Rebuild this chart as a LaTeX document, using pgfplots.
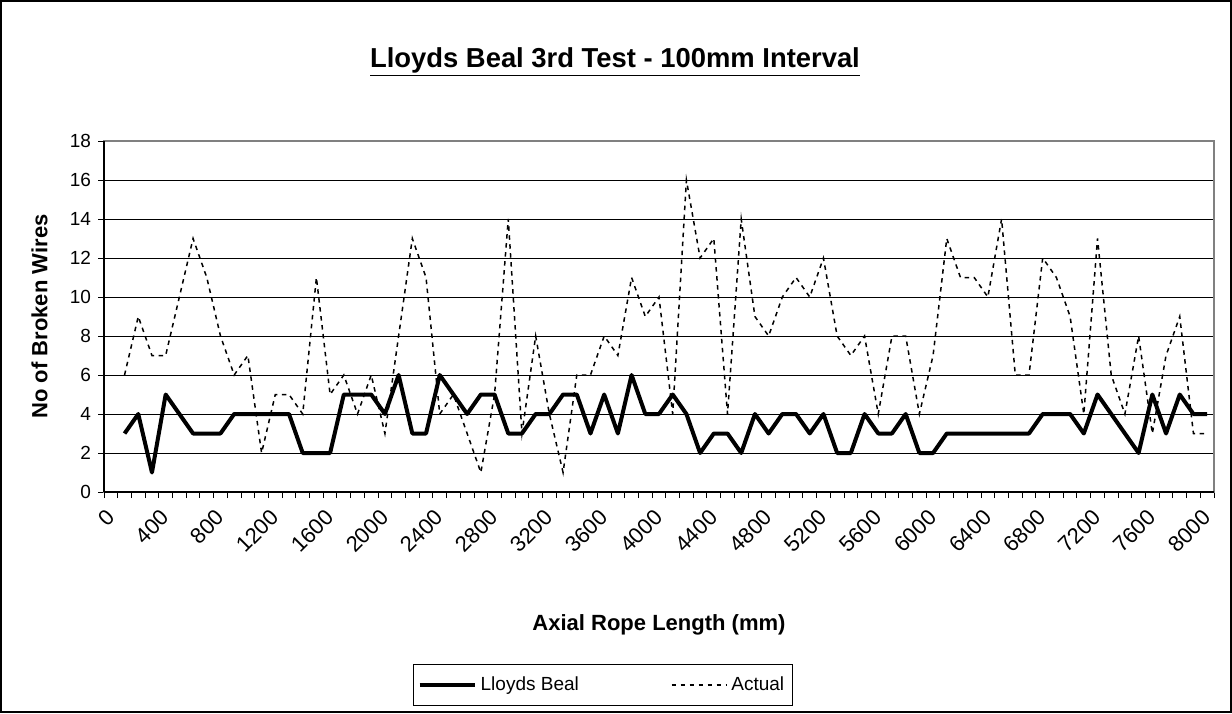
\documentclass[border=0pt]{standalone}
\usepackage{pgfplots}
\usepackage{pgfplotstable}
\usepackage{fontspec}
\setmainfont{Liberation Sans}
\pgfplotsset{compat=1.18}

% i = category index (i*100 mm), lb = Lloyds Beal, act = Actual
\pgfplotstableread{
i lb act
1 3 6
2 4 9
3 1 7
4 5 7
5 4 10
6 3 13
7 3 11
8 3 8
9 4 6
10 4 7
11 4 2
12 4 5
13 4 5
14 2 4
15 2 11
16 2 5
17 5 6
18 5 4
19 5 6
20 4 3
21 6 8
22 3 13
23 3 11
24 6 4
25 5 5
26 4 3
27 5 1
28 5 5
29 3 14
30 3 3
31 4 8
32 4 4
33 5 1
34 5 6
35 3 6
36 5 8
37 3 7
38 6 11
39 4 9
40 4 10
41 5 4
42 4 16
43 2 12
44 3 13
45 3 4
46 2 14
47 4 9
48 3 8
49 4 10
50 4 11
51 3 10
52 4 12
53 2 8
54 2 7
55 4 8
56 3 4
57 3 8
58 4 8
59 2 4
60 2 7
61 3 13
62 3 11
63 3 11
64 3 10
65 3 14
66 3 6
67 3 6
68 4 12
69 4 11
70 4 9
71 3 4
72 5 13
73 4 6
74 3 4
75 2 8
76 5 3
77 3 7
78 5 9
79 4 3
80 4 3
}\ropedata

\begin{document}
\begin{tikzpicture}[x=1pt,y=1pt]
\path[use as bounding box] (0,0) rectangle (616,356.5);
\draw[line width=0.6pt] (0.5,0.5) rectangle (615.5,356);
\node[font=\fontsize{13.7}{16}\selectfont\bfseries] at (307.5,325.5)
  {\underline{Lloyds Beal 3rd Test - 100mm Interval}};
\begin{axis}[
  at={(52pt,110.5pt)}, anchor=south west,
  scale only axis, width=555pt, height=175.5pt,
  xmin=-0.5, xmax=80.5, ymin=0, ymax=18,
  xtick={-0.5,0.5,...,80.5},
  x tick label as interval,
  xticklabels={0,{},{},{},400,{},{},{},800,{},{},{},1200,{},{},{},1600,{},{},{},
    2000,{},{},{},2400,{},{},{},2800,{},{},{},3200,{},{},{},3600,{},{},{},
    4000,{},{},{},4400,{},{},{},4800,{},{},{},5200,{},{},{},5600,{},{},{},
    6000,{},{},{},6400,{},{},{},6800,{},{},{},7200,{},{},{},7600,{},{},{},8000},
  ytick={0,2,...,18},
  ymajorgrids,
  grid style={black, line width=0.5pt},
  tick align=outside, tick pos=left,
  major tick length=3pt,
  tick style={black, line width=0.5pt},
  axis line style={gray, line width=0.6pt},
  ticklabel style={font=\fontsize{9.5}{11}\selectfont},
  xticklabel style={shift={(-3pt,-3.5pt)}, rotate=45, anchor=north east,
    inner sep=1pt, font=\fontsize{11}{13}\selectfont},
  /pgf/number format/assume math mode=true,
  yticklabel style={/pgf/number format/fixed},
  xlabel={Axial Rope Length (mm)},
  ylabel={No of Broken Wires},
  label style={font=\fontsize{11}{13}\selectfont\bfseries},
  xlabel style={at={(axis description cs:0.5,-0.379)}, anchor=center},
  ylabel style={at={(axis description cs:-0.058,0.5)}, anchor=center},
  legend columns=2,
  legend style={at={(axis description cs:0.4495,-0.6097)}, anchor=south,
    draw=black, line width=0.5pt, font=\fontsize{9.5}{11}\selectfont,
    inner xsep=2pt, inner ysep=4pt,
    nodes={inner xsep=2pt},
    /tikz/every even column/.append style={column sep=44pt}},
  legend image code/.code={\draw[#1] (0pt,0pt) -- (27.5pt,0pt);},
  clip=false,
]
\addplot[black, line width=2pt, line join=round] table[x=i, y=lb] {\ropedata};
\addplot[black, line width=0.75pt, dash pattern=on 2.25pt off 2.25pt] table[x=i, y=act] {\ropedata};
\legend{Lloyds Beal, Actual}
\draw[black, line width=0.6pt] (rel axis cs:0,0) -- (rel axis cs:0,1);
\draw[black, line width=0.6pt] (rel axis cs:0,0) -- (rel axis cs:1,0);
\end{axis}
\end{tikzpicture}
\end{document}
